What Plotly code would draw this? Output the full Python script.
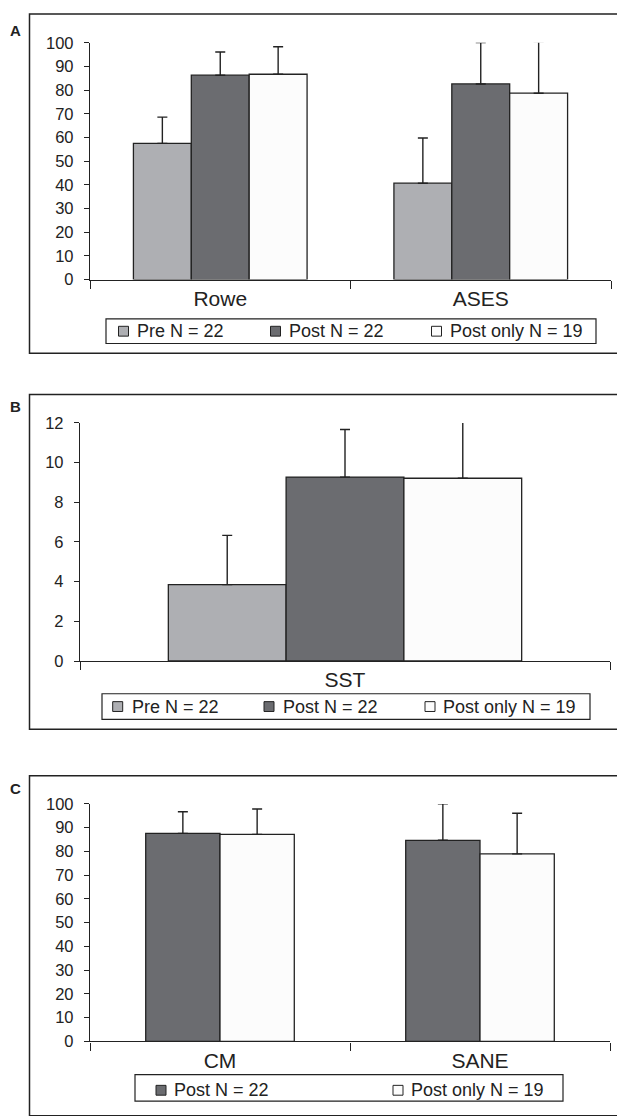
import plotly.graph_objects as go

W, H = 617, 1116

# ---------------- data ----------------
series_names = ["Pre N = 22", "Post N = 22", "Post only N = 19"]
series_colors = ["#AEAFB3", "#6B6C70", "#FCFCFC"]

a_categories = ["Rowe", "ASES"]
a_pre_mean = [57.5, 40.7]
a_pre_sd = [11.1, 19.1]
a_post_mean = [86.3, 82.6]
a_post_sd = [9.8, 17.5]
a_postonly_mean = [86.7, 78.7]
a_postonly_sd = [11.6, 21.8]

b_categories = ["SST"]
b_pre_mean = [3.85]
b_pre_sd = [2.48]
b_post_mean = [9.27]
b_post_sd = [2.40]
b_postonly_mean = [9.21]
b_postonly_sd = [2.87]

c_categories = ["CM", "SANE"]
c_post_mean = [87.6, 84.7]
c_post_sd = [9.1, 15.4]
c_postonly_mean = [87.2, 79.0]
c_postonly_sd = [10.7, 17.1]

panel_labels = ["A", "B", "C"]

# ---------------- style ----------------
FONT = "Liberation Sans, Arial, sans-serif"
INK = "#222222"
LW = 1.3


def px_x(p):
    return p / W


def px_y(p):
    return 1 - p / H


def bar(name, color, cats, mean, sd, xa, ya, **kw):
    return go.Bar(
        name=name, x=cats, y=mean, showlegend=False,
        marker=dict(color=color, line=dict(color=INK, width=LW)),
        error_y=dict(type="data", symmetric=False, array=sd,
                     arrayminus=[0] * len(sd), color=INK,
                     thickness=1.4, width=5),
        xaxis=xa, yaxis=ya, cliponaxis=False, **kw)


fig = go.Figure()
# Panel A
for nm, col, m, s in zip(series_names, series_colors,
                         [a_pre_mean, a_post_mean, a_postonly_mean],
                         [a_pre_sd, a_post_sd, a_postonly_sd]):
    fig.add_trace(bar(nm, col, a_categories, m, s, "x", "y"))
# Panel B
for nm, col, m, s in zip(series_names, series_colors,
                         [b_pre_mean, b_post_mean, b_postonly_mean],
                         [b_pre_sd, b_post_sd, b_postonly_sd]):
    fig.add_trace(bar(nm, col, b_categories, m, s, "x2", "y2"))
# Panel C (two series, Excel gap width 150%)
cw = 1 / 3.5
for (nm, col, m, s), off in zip(
        zip(series_names[1:], series_colors[1:],
            [c_post_mean, c_postonly_mean], [c_post_sd, c_postonly_sd]),
        [-cw, 0]):
    fig.add_trace(bar(nm, col, c_categories, m, s, "x3", "y3",
                      width=cw, offset=off))


def xax(d0, d1, anchor):
    return dict(domain=[px_x(d0), px_x(d1)], anchor=anchor, type="category",
                showline=True, linecolor=INK, linewidth=LW, ticks="outside",
                tickson="boundaries", ticklen=8, tickcolor=INK, tickwidth=LW,
                tickfont=dict(size=21, color=INK, family=FONT),
                showgrid=False, zeroline=False, fixedrange=True)


def yax(p0, p1, anchor, rng, dt):
    return dict(domain=[px_y(p0), px_y(p1)], anchor=anchor, range=rng,
                dtick=dt, showline=True, linecolor=INK, linewidth=LW,
                ticks="outside", ticklen=5, tickcolor=INK, tickwidth=LW,
                tickfont=dict(size=16.5, color=INK, family=FONT),
                ticklabelstandoff=7, showgrid=False, zeroline=False,
                fixedrange=True)


shapes = []
annotations = []

# outer panel frames
for top, bot in [(5, 350), (391.7, 732), (779.3, 1125)]:
    shapes.append(dict(type="rect", xref="paper", yref="paper",
                       x0=px_x(29.5), x1=px_x(W + 10), y0=px_y(bot), y1=px_y(top),
                       line=dict(color=INK, width=1.5), fillcolor="rgba(0,0,0,0)",
                       layer="below"))

# panel letters
for lab, yy in zip(panel_labels, [22, 404, 792]):
    annotations.append(dict(text="<b>%s</b>" % lab, xref="paper", yref="paper",
                            x=px_x(15), y=px_y(yy), showarrow=False,
                            xanchor="center", yanchor="middle",
                            font=dict(size=15, color=INK, family=FONT)))

# legends (box, swatch, label) built from the series names / colours
legend_specs = [
    # (box x0, y0, x1, y1), swatch centres, text starts, row centre y, series idx
    ((106, 315, 596, 340), [123.5, 275.5, 436.5], [135, 287, 448], 327.5, [0, 1, 2]),
    ((102, 696, 590, 722), [117.7, 269, 430], [129.5, 280.5, 441], 709, [0, 1, 2]),
    ((135, 1083, 563, 1110), [161, 398], [172, 409], 1099, [1, 2]),
]
SW = 10
for (bx0, by0, bx1, by1), sx, tx, cy, idx in legend_specs:
    shapes.append(dict(type="rect", xref="paper", yref="paper",
                       x0=px_x(bx0), x1=px_x(bx1), y0=px_y(by1), y1=px_y(by0),
                       line=dict(color=INK, width=1.2), fillcolor="white",
                       layer="above"))
    for cx, tx0, i in zip(sx, tx, idx):
        shapes.append(dict(type="rect", xref="paper", yref="paper",
                           x0=px_x(cx - SW / 2), x1=px_x(cx + SW / 2),
                           y0=px_y(cy + SW / 2), y1=px_y(cy - SW / 2),
                           line=dict(color=INK, width=1),
                           fillcolor=series_colors[i], layer="above"))
        annotations.append(dict(text=series_names[i], xref="paper", yref="paper",
                                x=px_x(tx0), y=px_y(cy), showarrow=False,
                                xanchor="left", yanchor="middle",
                                font=dict(size=18, color=INK, family=FONT)))

fig.update_layout(
    width=W, height=H, autosize=False,
    margin=dict(l=0, r=0, t=0, b=0, pad=0),
    paper_bgcolor="white", plot_bgcolor="rgba(0,0,0,0)",
    font=dict(family=FONT, color=INK),
    barmode="group", bargap=1 / 3, bargroupgap=0,
    showlegend=False,
    xaxis=xax(90, 611, "y"),
    yaxis=yax(275, 34.3, "x", [0, 100], 10),
    xaxis2=xax(80, 610, "y2"),
    yaxis2=yax(662.7, 420.7, "x2", [0, 12], 2),
    xaxis3=xax(90, 610, "y3"),
    yaxis3=yax(1049.3, 808, "x3", [0, 100], 10),
    shapes=shapes, annotations=annotations,
)

fig.write_html("out.html", config={"displayModeBar": False},
               post_script="document.body.style.margin='0px';"
                           "document.body.style.overflow='hidden';")
